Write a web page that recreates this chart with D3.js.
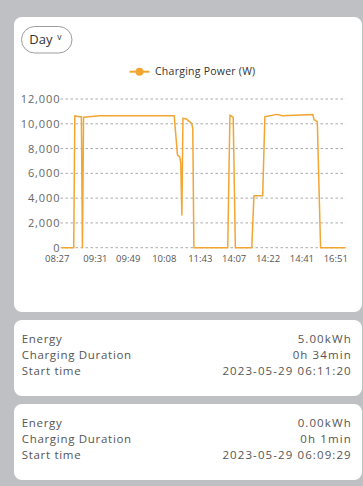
<!DOCTYPE html>
<html>
<head>
<meta charset="utf-8">
<script src="https://cdn.jsdelivr.net/npm/d3@7"></script>
<style>
  html, body { margin: 0; padding: 0; background: #bfc0c4; }
  svg { display: block; font-family: "Open Sans", "Noto Sans", sans-serif; }
</style>
</head>
<body>
<svg id="view" width="363" height="486"></svg>
<script>
// Charging power samples (sample index along the day, watts)
const sampleIdx = [0, 11, 12, 16, 18, 19, 20, 35, 103, 106, 108, 109, 110, 111, 114, 117, 119, 120, 121,
  152, 154, 157, 159, 174, 176, 184, 186, 197, 202, 230, 231, 234, 237, 260];
const power = [0, 0, 10650, 10570, 10560, 0, 10520, 10650, 10650, 7470, 7350, 6850, 2640, 10440, 10390, 10170, 10040, 9600, 0,
  0, 10700, 10520, 0, 0, 4200, 4200, 10570, 10760, 10650, 10740, 10330, 10170, 0, 0];

// Time labels on the x axis and the samples they sit at
const timeLabels = ["08:27", "09:31", "09:49", "10:08", "11:43", "14:07", "14:22", "14:41", "16:51"];
const timeLabelIdx = [0, 35, 65, 98, 131, 162, 193, 224, 255];

// Y axis ticks
const yTicks = [0, 2000, 4000, 6000, 8000, 10000, 12000];

// Charging sessions listed under the chart
const sessionEnergy = ["5.00kWh", "0.00kWh"];
const sessionDuration = ["0h 34min", "0h 1min"];
const sessionStart = ["2023-05-29 06:11:20", "2023-05-29 06:09:29"];

const ORANGE = "#f2a631";
const svg = d3.select("#view");

// Chart card
svg.append("rect").attr("x", 14).attr("y", 17).attr("width", 348).attr("height", 295)
  .attr("rx", 8).attr("fill", "#fff");

// Period selector pill
const pill = svg.append("g");
pill.append("rect").attr("x", 21.5).attr("y", 26.5).attr("width", 50.5).attr("height", 26.5)
  .attr("rx", 13.25).attr("fill", "#fff").attr("stroke", "#9c9c9c").attr("stroke-width", 1);
pill.append("text").attr("x", 29.3).attr("y", 43.5).attr("font-size", 13).attr("fill", "#333").text("Day");
pill.append("text").attr("x", 57.3).attr("y", 39.5).attr("font-size", 8.5).attr("fill", "#333").text("v");

// Legend
const legend = svg.append("g");
legend.append("line").attr("x1", 129.5).attr("x2", 149.5).attr("y1", 71.7).attr("y2", 71.7)
  .attr("stroke", ORANGE).attr("stroke-width", 2);
legend.append("circle").attr("cx", 139.5).attr("cy", 71.7).attr("r", 4).attr("fill", ORANGE);
legend.append("text").attr("x", 155).attr("y", 75.4).attr("font-size", 10.5)
  .attr("letter-spacing", 0.25).attr("fill", "#333")
  .text("Charging Power (W)");

// Scales
const x = d3.scaleLinear().domain([0, 260]).range([61.7, 345.7]);
const y = d3.scaleLinear().domain([0, 12000]).range([247.7, 99]);

// Horizontal grid
svg.append("g").selectAll("line").data(yTicks).join("line")
  .attr("x1", 60.5).attr("x2", x.range()[1])
  .attr("y1", d => y(d)).attr("y2", d => y(d))
  .attr("stroke", "#a9a9a9").attr("stroke-width", 1).attr("stroke-dasharray", "2.5,2.5");

// Y axis labels
svg.append("g").selectAll("text").data(yTicks).join("text")
  .attr("x", 60.4).attr("y", d => y(d)).attr("dy", "0.36em")
  .attr("text-anchor", "end").attr("font-size", 11).attr("letter-spacing", 0.9).attr("fill", "#666")
  .text(d => d3.format(",")(d));

// X axis labels
const xAxis = d3.axisBottom(x).tickValues(timeLabelIdx)
  .tickFormat((d, i) => timeLabels[i]).tickSize(0).tickPadding(0);
const xg = svg.append("g").attr("transform", "translate(0,255.2)").call(xAxis);
xg.select(".domain").remove();
xg.selectAll("text").attr("font-size", 9.5).attr("fill", "#555")
  .attr("font-family", "\"Open Sans\", sans-serif").attr("dx", -5);

// Power line
const line = d3.line().x((d, i) => x(sampleIdx[i])).y(d => y(d));
svg.append("path").datum(power)
  .attr("d", line).attr("fill", "none").attr("stroke", ORANGE)
  .attr("stroke-width", 1.5).attr("stroke-linejoin", "round");

// Session cards
const cardTops = [320, 404];
cardTops.forEach((top, k) => {
  const g = svg.append("g");
  g.append("rect").attr("x", 14).attr("y", top).attr("width", 348).attr("height", 76)
    .attr("rx", 8).attr("fill", "#fff");
  const rows = [["Energy", sessionEnergy[k]], ["Charging Duration", sessionDuration[k]], ["Start time", sessionStart[k]]];
  rows.forEach((r, j) => {
    const by = top + 22.5 + j * 16;
    g.append("text").attr("x", 21.7).attr("y", by).attr("font-size", 11.5)
      .attr("letter-spacing", 0.7).attr("fill", "#555").text(r[0]);
    g.append("text").attr("x", 351.8).attr("y", by).attr("text-anchor", "end")
      .attr("font-size", 11.5).attr("letter-spacing", 1.1).attr("fill", "#555").text(r[1]);
  });
});
</script>
</body>
</html>
